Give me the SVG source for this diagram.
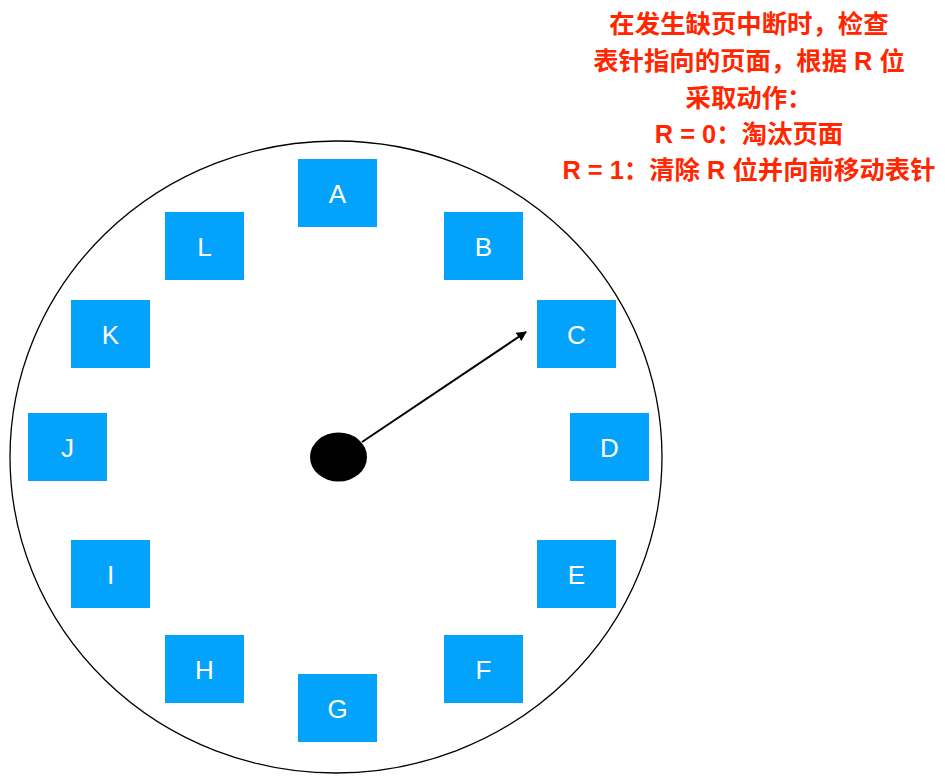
<svg xmlns="http://www.w3.org/2000/svg" width="945" height="782" viewBox="0 0 945 782">
<defs>
<style>
.box rect{fill:#03A3FB;}
.box text{fill:#fff;font-family:"Liberation Sans",Arial,sans-serif;font-size:26px;text-anchor:middle;dominant-baseline:central;}
.note{fill:#FF2600;font-family:"Liberation Sans","Noto Sans CJK SC",sans-serif;font-size:25.4px;font-weight:bold;text-anchor:middle;}
</style>
<marker id="ah" viewBox="0 0 10 10" refX="9" refY="5" markerWidth="5" markerHeight="5" orient="auto" markerUnits="strokeWidth">
<path d="M0,0 L10,5 L0,10 z" fill="#000"/>
</marker>
</defs>
<rect width="945" height="782" fill="#fff"/>
<g id="clock">
<ellipse cx="336" cy="457" rx="326" ry="316" fill="#fff" stroke="#000" stroke-width="1.3"/>
</g>
<g id="A" class="box"><rect x="298" y="159" width="79" height="68"/><text x="337.5" y="194">A</text></g>
<g id="B" class="box"><rect x="444" y="212" width="79" height="68"/><text x="483.5" y="247">B</text></g>
<g id="C" class="box"><rect x="537" y="300" width="79" height="68"/><text x="576.5" y="335">C</text></g>
<g id="D" class="box"><rect x="570" y="413" width="79" height="68"/><text x="609.5" y="448">D</text></g>
<g id="E" class="box"><rect x="537" y="540" width="79" height="68"/><text x="576.5" y="575">E</text></g>
<g id="F" class="box"><rect x="444" y="635" width="79" height="68"/><text x="483.5" y="670">F</text></g>
<g id="G" class="box"><rect x="298" y="674" width="79" height="68"/><text x="337.5" y="709">G</text></g>
<g id="H" class="box"><rect x="165" y="635" width="79" height="68"/><text x="204.5" y="670">H</text></g>
<g id="I" class="box"><rect x="71" y="540" width="79" height="68"/><text x="110.5" y="575">I</text></g>
<g id="J" class="box"><rect x="28" y="413" width="79" height="68"/><text x="67.5" y="448">J</text></g>
<g id="K" class="box"><rect x="71" y="300" width="79" height="68"/><text x="110.5" y="335">K</text></g>
<g id="L" class="box"><rect x="165" y="212" width="79" height="68"/><text x="204.5" y="247">L</text></g>
<g id="hub"><ellipse cx="338.5" cy="457" rx="28.5" ry="24.5" fill="#000"/></g>
<g id="connectors">
<line x1="362" y1="442" x2="526" y2="332" stroke="#000" stroke-width="2" marker-end="url(#ah)"/>
</g>
<g id="note">
<text class="note" x="749" y="33">在发生缺页中断时，检查</text>
<text class="note" x="749" y="70">表针指向的页面，根据 R 位</text>
<text class="note" x="749" y="107">采取动作：</text>
<text class="note" x="749" y="143">R = 0：淘汰页面</text>
<text class="note" x="749" y="179">R = 1：清除 R 位并向前移动表针</text>
</g>
</svg>
